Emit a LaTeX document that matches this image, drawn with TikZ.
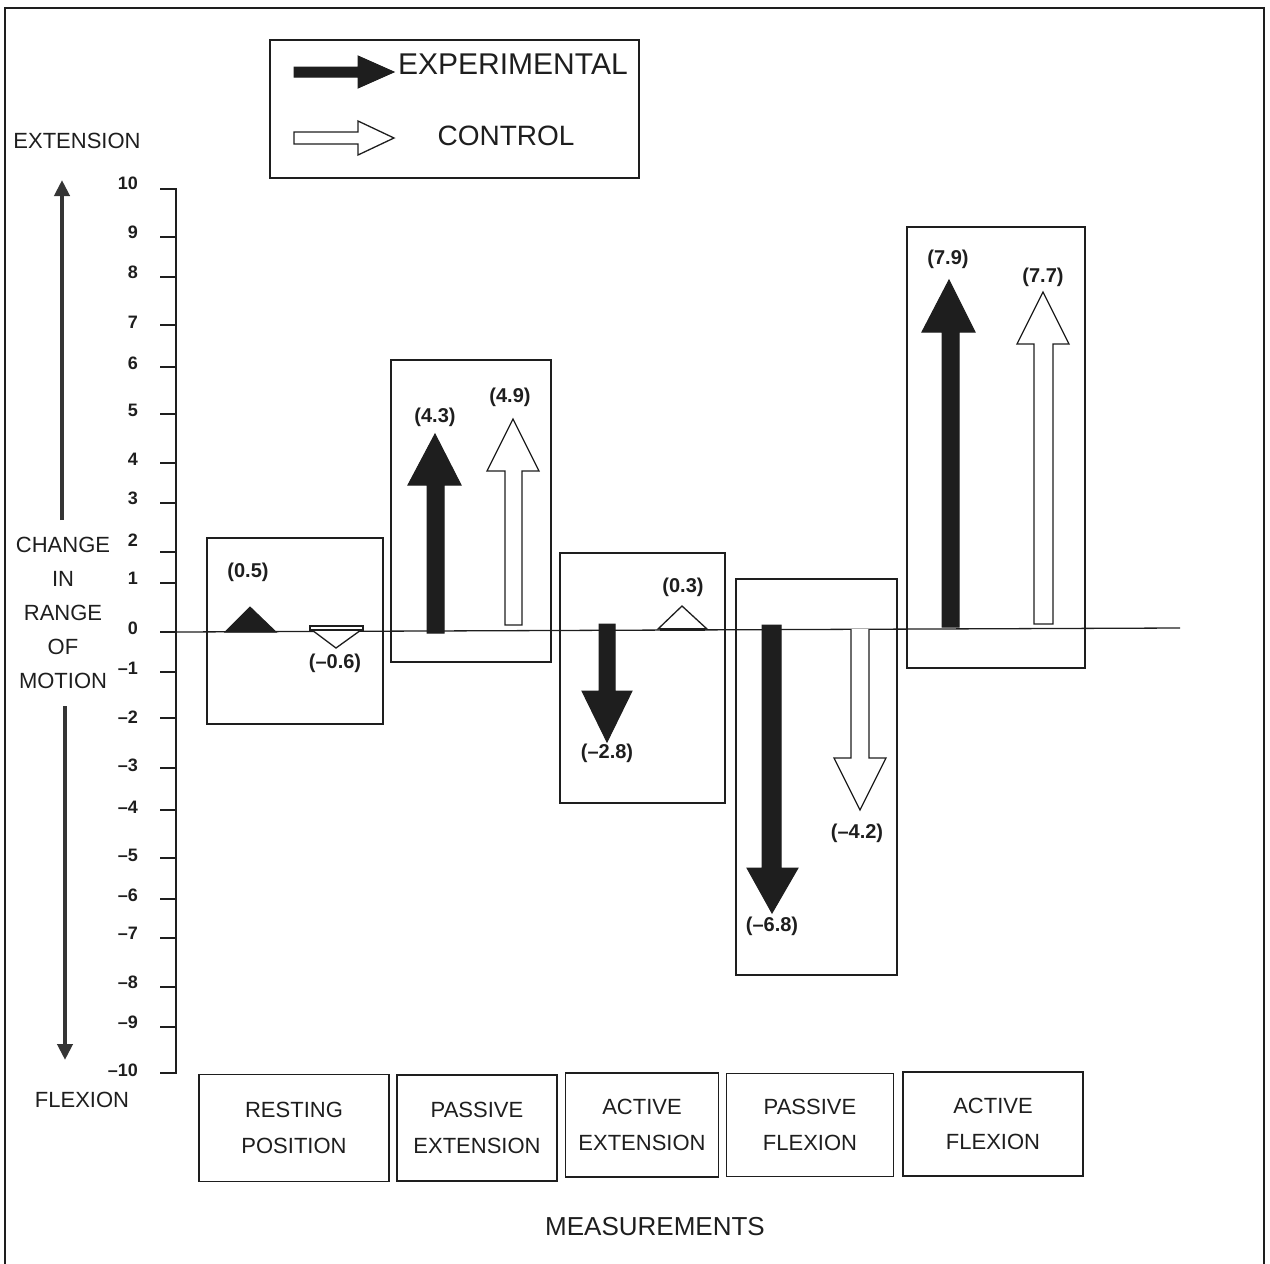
\documentclass[tikz,border=0pt]{standalone}
\usepackage{fontspec}
\setmainfont{Liberation Sans}
\usetikzlibrary{arrows.meta}

\definecolor{inkc}{HTML}{1E1E1E}

\tikzset{
  ink/.style={draw=inkc, line width=1.3pt},
  grpbox/.style={draw=inkc, line width=1.2pt},
  expfill/.style={fill=inkc, draw=inkc, line width=1pt, line join=miter},
  ctlfill/.style={fill=white, draw=inkc, line width=1.3pt, line join=miter},
  catbox/.style={draw=inkc, line width=1.2pt, align=center, inner sep=0pt,
    text=inkc, font=\fontsize{22}{36}\selectfont},
  axlbl/.style={text=inkc, align=center, inner sep=0pt, font=\fontsize{22}{34}\selectfont},
  numlbl/.style={text=inkc, inner sep=0pt, font=\bfseries\fontsize{20}{24}\selectfont},
  ticklbl/.style={text=inkc, anchor=east, inner sep=0pt, font=\bfseries\fontsize{18}{20}\selectfont},
  axarrow/.style={draw=inkc!90, line width=4.5pt, -{Triangle[length=16pt,width=15pt]}},
}

\begin{document}
\begin{tikzpicture}[x=1pt,y=-1pt]
  \useasboundingbox (0,0) rectangle (1270,1264);
  % outer frame (runs off the bottom)
  \draw[ink] (5,1264) -- (5,8) -- (1264,8) -- (1264,1264);

  % legend
  \draw[grpbox] (270,40) rectangle (639,178);
  \filldraw[expfill] (294,67) -- (358,67) -- (358,56) -- (394,72) -- (358,88)
    -- (358,77) -- (294,77) -- cycle;
  \node[axlbl, anchor=west, font=\fontsize{30}{34}\selectfont] (legexp) at (398,64) {EXPERIMENTAL};
  \draw[ctlfill] (294,132) -- (358,132) -- (358,121) -- (394,138) -- (358,155)
    -- (358,144) -- (294,144) -- cycle;
  \node[axlbl, font=\fontsize{28}{32}\selectfont] (legctl) at (506,136) {CONTROL};

  % axis titles
  \node[axlbl] (ext) at (77,141) {EXTENSION};
  \node[axlbl] (flex) at (82,1100) {FLEXION};
  \node[axlbl] (change) at (63,613) {CHANGE\\IN\\RANGE\\OF\\MOTION};
  \coordinate (uplow) at (62,520);
  \coordinate (uphigh) at (62,180);
  \coordinate (dnhigh) at (65,706);
  \coordinate (dnlow) at (65,1060);
  \draw[axarrow] (uplow) -- (uphigh);
  \draw[axarrow] (dnhigh) -- (dnlow);

  % vertical scale
  \draw[ink] (160,189) -- (176,189) -- (176,1073) -- (160,1073);
  \foreach \v/\yt/\yl in {10/189/183, 9/237/232, 8/277/272, 7/325/322, 6/367/363,
      5/414/410, 4/463/459, 3/503/498, 2/552/540, 1/583/578, 0/632/628,
      -1/672/668, -2/718/717, -3/768/765, -4/810/807, -5/858/855,
      -6/899/895, -7/938/933, -8/987/982, -9/1027/1022, -10/1073/1070} {
    \draw[ink] (160,\yt) -- (176,\yt);
    \node[ticklbl] (t\v) at (138,\yl) {\ifnum\v<0 \textendash\the\numexpr-\v\relax\else\v\fi};
  }
  \draw[ink] (176,632) -- (1180,628);

  % group frames
  \draw[grpbox] (207,538) rectangle (383,724);
  \draw[grpbox] (391,360) rectangle (551,662);
  \draw[grpbox] (560,553) rectangle (725,803);
  \draw[grpbox] (736,579) rectangle (897,975);
  \draw[grpbox] (907,227) rectangle (1085,668);

  % resting position
  \filldraw[expfill] (225,632) -- (250,607) -- (276,632) -- cycle;
  \draw[ctlfill] (312,630) -- (336,648) -- (361,630);
  \draw[ctlfill] (310,626) rectangle (363,630);
  \node[numlbl] (r1) at (248,572) {(0.5)};
  \node[numlbl] (r2) at (335,663) {(\textendash0.6)};

  % passive extension
  \filldraw[expfill] (427,633) -- (427,485) -- (408,485) -- (435,434) -- (461,485)
    -- (444,485) -- (444,633) -- cycle;
  \draw[ctlfill] (505,625) -- (505,471) -- (487,471) -- (513,419) -- (539,471)
    -- (522,471) -- (522,625) -- cycle;
  \node[numlbl] (pe1) at (435,417) {(4.3)};
  \node[numlbl] (pe2) at (510,397) {(4.9)};

  % active extension
  \filldraw[expfill] (599,624) -- (599,691) -- (582,691) -- (607,742) -- (632,691)
    -- (615,691) -- (615,624) -- cycle;
  \draw[ctlfill] (658,629) -- (682,606) -- (707,629) -- cycle;
  \draw[inkc, line width=3pt] (660,629) -- (705,629);
  \node[numlbl] (ae1) at (607,753) {(\textendash2.8)};
  \node[numlbl] (ae2) at (683,587) {(0.3)};

  % passive flexion
  \filldraw[expfill] (762,625) -- (762,868) -- (747,868) -- (772,913) -- (798,868)
    -- (781,868) -- (781,625) -- cycle;
  \draw[ctlfill] (851,629) -- (851,758) -- (834,758) -- (860,810) -- (886,758)
    -- (869,758) -- (869,629);
  \node[numlbl] (pf1) at (772,926) {(\textendash6.8)};
  \node[numlbl] (pf2) at (857,833) {(\textendash4.2)};

  % active flexion
  \filldraw[expfill] (942,627) -- (942,332) -- (922,332) -- (949,280) -- (975,332)
    -- (959,332) -- (959,627) -- cycle;
  \draw[ctlfill] (1034,624) -- (1034,344) -- (1017,344) -- (1043,292) -- (1069,344)
    -- (1053,344) -- (1053,624) -- cycle;
  \node[numlbl] (af1) at (948,259) {(7.9)};
  \node[numlbl] (af2) at (1043,277) {(7.7)};

  % measurement names
  \node[catbox, minimum width=190pt, minimum height=107pt] (rest) at (294,1128) {RESTING\\POSITION};
  \node[catbox, minimum width=160pt, minimum height=106pt] (pext) at (477,1128) {PASSIVE\\EXTENSION};
  \node[catbox, minimum width=153pt, minimum height=104pt] (aext) at (642,1125) {ACTIVE\\EXTENSION};
  \node[catbox, minimum width=167pt, minimum height=103pt] (pflex) at (810,1125) {PASSIVE\\FLEXION};
  \node[catbox, minimum width=180pt, minimum height=104pt] (aflex) at (993,1124) {ACTIVE\\FLEXION};
  \node[axlbl, font=\fontsize{26}{30}\selectfont] (meas) at (655,1227) {MEASUREMENTS};
\end{tikzpicture}
\end{document}
